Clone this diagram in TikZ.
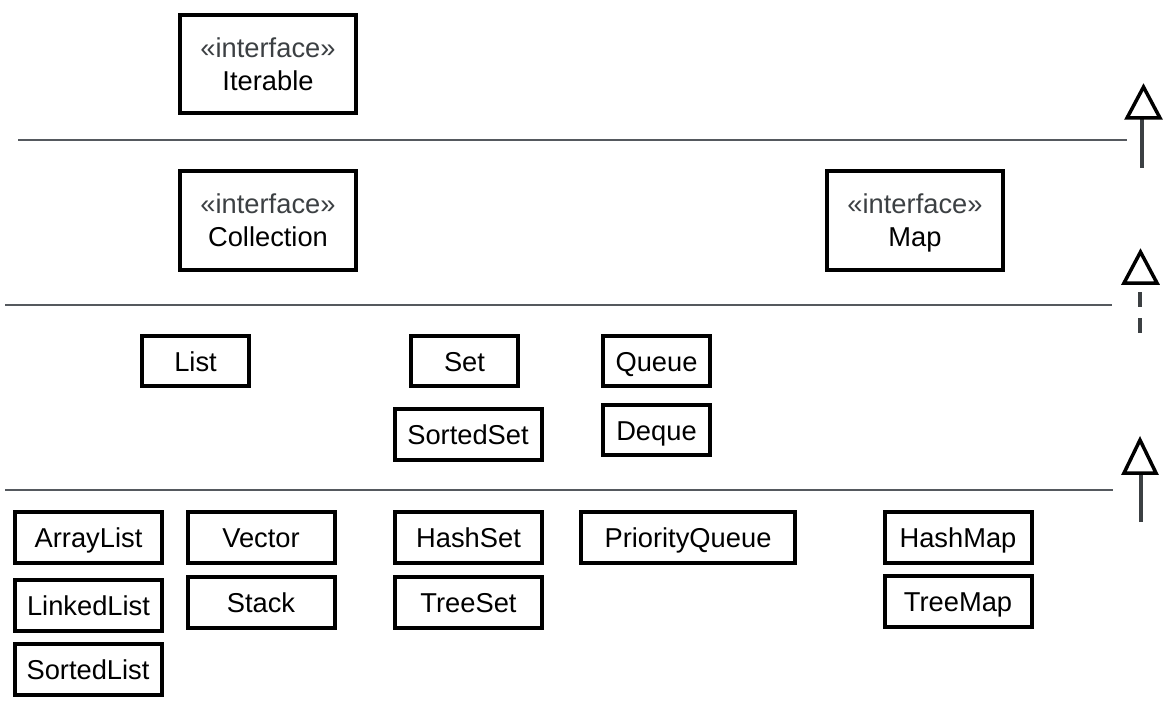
\documentclass[tikz,border=0pt]{standalone}
\usepackage{fontspec}
\setmainfont{Liberation Sans}
\definecolor{stereo}{HTML}{3C4043}
\definecolor{rule}{HTML}{55595E}
\begin{document}
\begin{tikzpicture}[x=1pt,y=-1pt,
  box/.style={draw=black,line width=4pt,inner sep=0pt,align=center,
    font=\fontsize{27.3}{33}\selectfont},
  one/.style={box,text height=26pt,text depth=6pt},
  ibox/.style={box,text depth=0pt,minimum width=176pt,minimum height=98pt},
  sbox/.style={one,minimum width=107pt,minimum height=50pt},
  mbox/.style={one,minimum width=147pt,minimum height=51pt},
  sep/.style={draw=rule,line width=1.5pt},
  shaft/.style={draw=stereo,line width=4pt},
  tri/.style={draw=black,line width=3.5pt,fill=white,line join=miter}]
\useasboundingbox (0,0) rectangle (1169,703);
% separators
\coordinate (l1a) at (18,140); \coordinate (l1b) at (1127,140);
\coordinate (l2a) at (5,305); \coordinate (l2b) at (1112,305);
\coordinate (l3a) at (5,490); \coordinate (l3b) at (1113,490);
\draw[sep] (l1a) -- (l1b);
\draw[sep] (l2a) -- (l2b);
\draw[sep] (l3a) -- (l3b);
% interface boxes
\node[ibox] (iterable) at (268,64.5) {\textcolor{stereo}{«interface»}\\Iterable};
\node[ibox] (collection) at (268,220.5) {\textcolor{stereo}{«interface»}\\Collection};
\node[ibox] (map) at (915,220.5) {\textcolor{stereo}{«interface»}\\Map};
% second level
\node[sbox] (list) at (195.5,361) {List};
\node[sbox] (set) at (464.5,361) {Set};
\node[sbox] (queue) at (656.5,361) {Queue};
\node[mbox] (sortedset) at (468,434) {SortedSet};
\node[sbox] (deque) at (656.5,430) {Deque};
% implementations
\node[mbox] (arraylist) at (88.5,537.5) {ArrayList};
\node[mbox] (linkedlist) at (88.5,605.5) {LinkedList};
\node[mbox] (sortedlist) at (88,669.5) {SortedList};
\node[mbox] (vector) at (261,537.5) {Vector};
\node[mbox] (stack) at (261,602.5) {Stack};
\node[mbox] (hashset) at (468.5,537.5) {HashSet};
\node[mbox] (treeset) at (468.5,602.5) {TreeSet};
\node[one,minimum width=214pt,minimum height=51pt] (pq) at (688,537.5) {PriorityQueue};
\node[mbox] (hashmap) at (958,537) {HashMap};
\node[mbox] (treemap) at (958,601.5) {TreeMap};
% legend arrows
\coordinate (a1s) at (1142,168); \coordinate (a1e) at (1142,118);
\draw[shaft] (a1s) -- (a1e);
\draw[tri] (1127,118) -- (1143.5,87) -- (1160,118) -- cycle;
\coordinate (a2s) at (1140,333); \coordinate (a2e) at (1140,292);
\draw[shaft,dash pattern=on 15pt off 11pt] (a2e) -- (a2s);
\draw[tri] (1124,283) -- (1140.5,252) -- (1157,283) -- cycle;
\coordinate (a3s) at (1141,522); \coordinate (a3e) at (1141,473);
\draw[shaft] (a3s) -- (a3e);
\draw[tri] (1124,473) -- (1140,440) -- (1156,473) -- cycle;
\end{tikzpicture}
\end{document}
